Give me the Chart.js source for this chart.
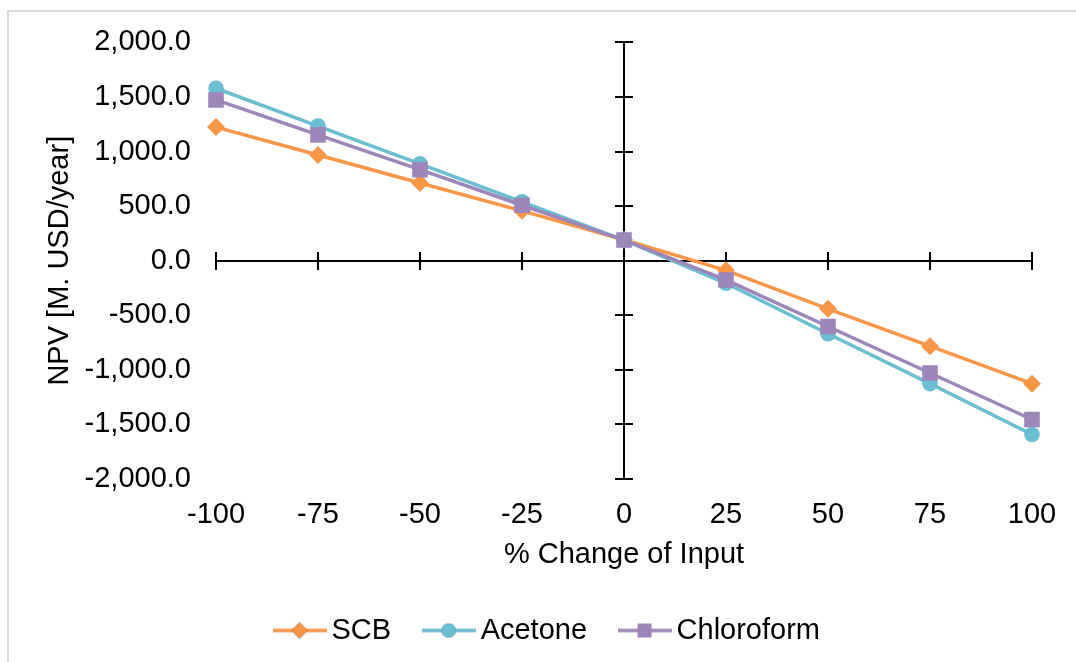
<!DOCTYPE html>
<html>
<head>
<meta charset="utf-8">
<script src="https://cdn.jsdelivr.net/npm/chart.js@4.4.1/dist/chart.umd.min.js"></script>
<style>
  html, body { margin: 0; padding: 0; background: #fff; }
  #wrap { width: 1076px; height: 662px; position: relative; }
</style>
</head>
<body>
<div id="wrap"><canvas id="npvChart"></canvas></div>
<script>
// Data
const changeLabels = ['-100', '-75', '-50', '-25', '0', '25', '50', '75', '100'];
const scbNpv = [1224, 968, 712, 457, 192, -88, -441, -783, -1127];
const acetoneNpv = [1580, 1233, 888, 539, 189, -207, -669, -1126, -1592];
const chloroformNpv = [1473, 1153, 834, 508, 189, -176, -603, -1029, -1455];
const seriesNames = ['SCB', 'Acetone', 'Chloroform'];
const seriesColors = ['#F79646', '#6BBDD1', '#9B85B9'];
const seriesMarkers = ['rectRot', 'circle', 'rect'];
const markerSizes = [9, 7.8, 11];

Chart.defaults.font.family = "'Liberation Sans', Arial, sans-serif";
Chart.defaults.font.size = 29;
Chart.defaults.color = '#000';

// legend swatch: short line with the marker in the middle
function makeSwatch(i) {
    const c = document.createElement('canvas');
    c.width = 54;
    c.height = 24;
    const g = c.getContext('2d');
    g.strokeStyle = seriesColors[i];
    g.lineWidth = 3.5;
    g.beginPath();
    g.moveTo(0, 12);
    g.lineTo(54, 12);
    g.stroke();
    Chart.helpers.drawPoint(g, { pointStyle: seriesMarkers[i], radius: markerSizes[i] * 0.9, borderWidth: 0 }, 27, 12);
    g.fillStyle = seriesColors[i];
    g.fill();
    return c;
}

// axes crossing at zero, with cross tick marks, plus the light frame
const zeroAxes = {
    id: 'zeroAxes',
    beforeDraw(chart) {
        const ctx = chart.ctx;
        ctx.save();
        ctx.strokeStyle = '#d9d9d9';
        ctx.lineWidth = 2;
        ctx.beginPath();
        ctx.moveTo(8, chart.height);
        ctx.lineTo(8, 11);
        ctx.lineTo(chart.width, 11);
        ctx.stroke();
        ctx.restore();
    },
    beforeDatasetsDraw(chart) {
        const { ctx, chartArea: a, scales: { x, y } } = chart;
        const y0 = Math.round(y.getPixelForValue(0));
        const x0 = Math.round(x.getPixelForValue(changeLabels.indexOf('0')));
        ctx.save();
        ctx.strokeStyle = '#000';
        ctx.lineWidth = 2;
        ctx.beginPath();
        ctx.moveTo(a.left, y0);
        ctx.lineTo(a.right, y0);
        x.ticks.forEach((t, i) => {
            const px = Math.round(x.getPixelForTick(i));
            ctx.moveTo(px, y0 - 9);
            ctx.lineTo(px, y0 + 9);
        });
        ctx.moveTo(x0, a.top);
        ctx.lineTo(x0, a.bottom);
        y.ticks.forEach((t, i) => {
            const py = Math.round(y.getPixelForTick(i));
            ctx.moveTo(x0 - 9, py);
            ctx.lineTo(x0 + 9, py);
        });
        ctx.stroke();
        ctx.restore();
    }
};

const allSeries = [scbNpv, acetoneNpv, chloroformNpv];
const datasets = allSeries.map((vals, i) => ({
    label: seriesNames[i],
    data: vals,
    borderColor: seriesColors[i],
    backgroundColor: seriesColors[i],
    borderWidth: 3.5,
    pointStyle: seriesMarkers[i],
    pointRadius: markerSizes[i],
    pointHoverRadius: markerSizes[i],
    pointBorderWidth: 0,
    tension: 0,
    order: 2 - i
}));

new Chart(document.getElementById('npvChart'), {
    type: 'line',
    data: { labels: changeLabels, datasets: datasets },
    plugins: [zeroAxes],
    options: {
        responsive: true,
        maintainAspectRatio: false,
        animation: false,
        layout: { padding: { left: 70, right: 44, top: 40, bottom: 7 } },
        scales: {
            x: {
                grid: { display: false, drawTicks: false },
                border: { display: false },
                ticks: { padding: 19, maxRotation: 0, autoSkip: false },
                title: { display: true, text: '% Change of Input', padding: { top: 0, bottom: 4 } },
                afterFit: s => { s.height = 97; }
            },
            y: {
                min: -2000,
                max: 2000,
                grid: { display: false, drawTicks: false },
                border: { display: false },
                ticks: {
                    stepSize: 500,
                    padding: 25,
                    callback: v => v.toLocaleString('en-US', { minimumFractionDigits: 1, maximumFractionDigits: 1 })
                },
                title: { display: true, text: 'NPV [M. USD/year]', padding: { top: -27, bottom: 0 } },
                afterFit: s => { s.width = 146; }
            }
        },
        plugins: {
            tooltip: { enabled: false },
            legend: {
                position: 'bottom',
                labels: {
                    usePointStyle: true,
                    pointStyleWidth: 35,
                    padding: 40,
                    generateLabels: chart => chart.data.datasets.map((ds, i) => ({
                        text: ds.label,
                        pointStyle: makeSwatch(i),
                        fillStyle: ds.borderColor,
                        strokeStyle: ds.borderColor,
                        lineWidth: 0,
                        hidden: false,
                        datasetIndex: i,
                        fontColor: '#000'
                    }))
                }
            }
        }
    }
});
</script>
</body>
</html>
